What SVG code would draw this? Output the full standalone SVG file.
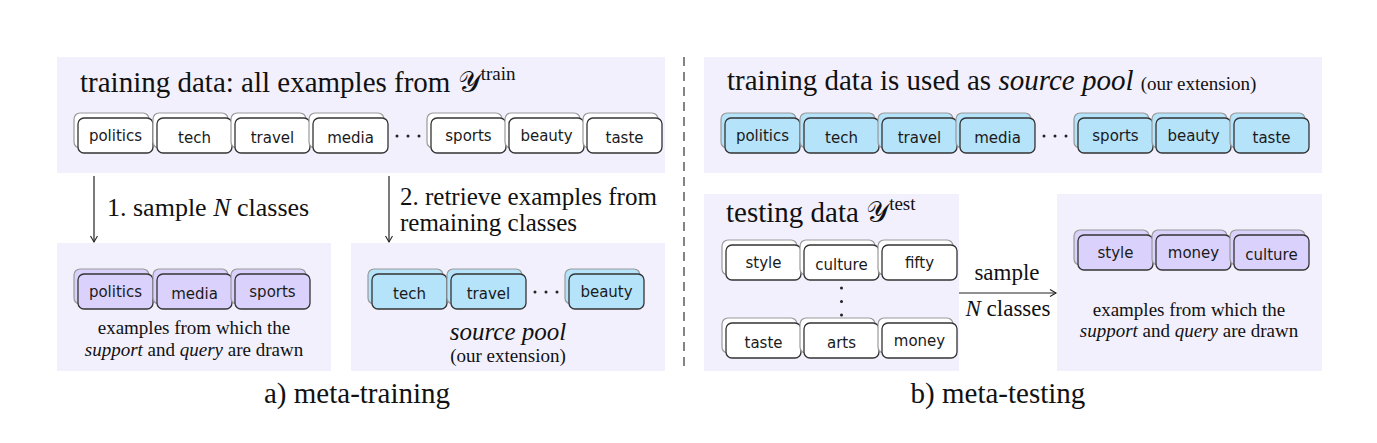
<svg xmlns="http://www.w3.org/2000/svg" width="1377" height="443" viewBox="0 0 1377 443">
<defs>
<style>
.panel{fill:#f2f0fc}
.bk{stroke:#9a9a9a;stroke-width:1.2}
.fr{stroke:#333;stroke-width:1.3}
.w{fill:#fff}.b{fill:#b5e3fa}.p{fill:#dad2fc}
.tag{font-family:"DejaVu Sans",sans-serif;font-size:15px;text-anchor:middle;fill:#1a1a1a}
.s{font-family:"Liberation Serif","Times New Roman",serif;fill:#111}
.h{font-size:29px}
.lb{font-size:26px}
.sm{font-size:19px}
.c{text-anchor:middle}
.i{font-style:italic}
.dot{fill:#222}
.ln{stroke:#222;stroke-width:1.2;fill:none}
</style>
<marker id="ah" markerWidth="12" markerHeight="12" refX="9" refY="5" orient="auto" markerUnits="userSpaceOnUse">
<path d="M3,1.5 L9,5 L3,8.5" fill="none" stroke="#222" stroke-width="1.1"/>
</marker>
</defs>
<rect width="1377" height="443" fill="#fff"/>

<!-- panels -->
<rect class="panel" x="57" y="57" width="608" height="116"/>
<rect class="panel" x="57" y="243" width="274" height="128"/>
<rect class="panel" x="351" y="243" width="314" height="128"/>
<rect class="panel" x="704" y="57" width="618" height="116"/>
<rect class="panel" x="704" y="194" width="255" height="177"/>
<rect class="panel" x="1057" y="194" width="265" height="177"/>

<!-- headings -->
<text class="s h" x="80" y="92">training data: all examples from <tspan font-family="DejaVu Serif,DejaVu Sans,serif">𝒴</tspan><tspan font-size="19px" dy="-12">train</tspan></text>
<text class="s h" x="727" y="90">training data is used as <tspan class="i">source pool</tspan> <tspan font-size="19px">(our extension)</tspan></text>
<text class="s h" x="726" y="222">testing data <tspan font-family="DejaVu Serif,DejaVu Sans,serif">𝒴</tspan><tspan font-size="19px" dy="-12">test</tspan></text>

<!-- top-left tags -->
<g id="tl-politics"><rect class="bk w" x="74" y="113" width="75" height="35" rx="6"/><rect class="fr w" x="78" y="118" width="75" height="35" rx="6"/><text class="tag" x="115.5" y="140.5">politics</text></g>
<g id="tl-tech"><rect class="bk w" x="153" y="113" width="75" height="35" rx="6"/><rect class="fr w" x="157" y="118" width="75" height="35" rx="6"/><text class="tag" x="194.5" y="142.5">tech</text></g>
<g id="tl-travel"><rect class="bk w" x="231" y="113" width="75" height="35" rx="6"/><rect class="fr w" x="235" y="118" width="75" height="35" rx="6"/><text class="tag" x="272.5" y="142.5">travel</text></g>
<g id="tl-media"><rect class="bk w" x="309" y="113" width="75" height="35" rx="6"/><rect class="fr w" x="313" y="118" width="75" height="35" rx="6"/><text class="tag" x="350.5" y="142.5">media</text></g>
<g id="tl-dots"><circle class="dot" cx="397" cy="136" r="1.5"/><circle class="dot" cx="408" cy="136" r="1.5"/><circle class="dot" cx="419" cy="136" r="1.5"/></g>
<g id="tl-sports"><rect class="bk w" x="427" y="113" width="75" height="35" rx="6"/><rect class="fr w" x="431" y="118" width="75" height="35" rx="6"/><text class="tag" x="468.5" y="140.5">sports</text></g>
<g id="tl-beauty"><rect class="bk w" x="505" y="113" width="75" height="35" rx="6"/><rect class="fr w" x="509" y="118" width="75" height="35" rx="6"/><text class="tag" x="546.5" y="140.5">beauty</text></g>
<g id="tl-taste"><rect class="bk w" x="583" y="113" width="75" height="35" rx="6"/><rect class="fr w" x="587" y="118" width="75" height="35" rx="6"/><text class="tag" x="624.5" y="142.5">taste</text></g>

<!-- top-right tags -->
<g id="tr-politics"><rect class="bk b" x="721" y="113" width="75" height="35" rx="6"/><rect class="fr b" x="725" y="118" width="75" height="35" rx="6"/><text class="tag" x="762.5" y="140.5">politics</text></g>
<g id="tr-tech"><rect class="bk b" x="800" y="113" width="75" height="35" rx="6"/><rect class="fr b" x="804" y="118" width="75" height="35" rx="6"/><text class="tag" x="841.5" y="142.5">tech</text></g>
<g id="tr-travel"><rect class="bk b" x="878" y="113" width="75" height="35" rx="6"/><rect class="fr b" x="882" y="118" width="75" height="35" rx="6"/><text class="tag" x="919.5" y="142.5">travel</text></g>
<g id="tr-media"><rect class="bk b" x="956" y="113" width="75" height="35" rx="6"/><rect class="fr b" x="960" y="118" width="75" height="35" rx="6"/><text class="tag" x="997.5" y="142.5">media</text></g>
<g id="tr-dots"><circle class="dot" cx="1044" cy="136" r="1.5"/><circle class="dot" cx="1055" cy="136" r="1.5"/><circle class="dot" cx="1066" cy="136" r="1.5"/></g>
<g id="tr-sports"><rect class="bk b" x="1074" y="113" width="75" height="35" rx="6"/><rect class="fr b" x="1078" y="118" width="75" height="35" rx="6"/><text class="tag" x="1115.5" y="140.5">sports</text></g>
<g id="tr-beauty"><rect class="bk b" x="1152" y="113" width="75" height="35" rx="6"/><rect class="fr b" x="1156" y="118" width="75" height="35" rx="6"/><text class="tag" x="1193.5" y="140.5">beauty</text></g>
<g id="tr-taste"><rect class="bk b" x="1230" y="113" width="75" height="35" rx="6"/><rect class="fr b" x="1234" y="118" width="75" height="35" rx="6"/><text class="tag" x="1271.5" y="142.5">taste</text></g>

<!-- bottom-left tags -->
<g id="bl-politics"><rect class="bk p" x="74" y="269" width="75" height="35" rx="6"/><rect class="fr p" x="78" y="274" width="75" height="35" rx="6"/><text class="tag" x="115.5" y="296.5">politics</text></g>
<g id="bl-media"><rect class="bk p" x="153" y="269" width="75" height="35" rx="6"/><rect class="fr p" x="157" y="274" width="75" height="35" rx="6"/><text class="tag" x="194.5" y="298.5">media</text></g>
<g id="bl-sports"><rect class="bk p" x="231" y="269" width="75" height="35" rx="6"/><rect class="fr p" x="235" y="274" width="75" height="35" rx="6"/><text class="tag" x="272.5" y="296.5">sports</text></g>
<g id="bl-caption"><text class="s sm c" x="194" y="334">examples from which the</text><text class="s sm c" x="194" y="356"><tspan class="i">support</tspan> and <tspan class="i">query</tspan> are drawn</text></g>

<!-- bottom-middle tags -->
<g id="bm-tech"><rect class="bk b" x="368" y="269" width="75" height="35" rx="6"/><rect class="fr b" x="372" y="274" width="75" height="35" rx="6"/><text class="tag" x="409.5" y="298.5">tech</text></g>
<g id="bm-travel"><rect class="bk b" x="447" y="269" width="75" height="35" rx="6"/><rect class="fr b" x="451" y="274" width="75" height="35" rx="6"/><text class="tag" x="488.5" y="298.5">travel</text></g>
<g id="bm-dots"><circle class="dot" cx="535" cy="292" r="1.5"/><circle class="dot" cx="546" cy="292" r="1.5"/><circle class="dot" cx="557" cy="292" r="1.5"/></g>
<g id="bm-beauty"><rect class="bk b" x="565" y="269" width="75" height="35" rx="6"/><rect class="fr b" x="569" y="274" width="75" height="35" rx="6"/><text class="tag" x="606.5" y="296.5">beauty</text></g>
<g id="bm-caption"><text class="s c i" font-size="25px" x="508" y="340">source pool</text><text class="s sm c" x="508" y="362">(our extension)</text></g>

<!-- testing tags -->
<g id="te-style"><rect class="bk w" x="722" y="240" width="75" height="35" rx="6"/><rect class="fr w" x="726" y="245" width="75" height="35" rx="6"/><text class="tag" x="763.5" y="267.5">style</text></g>
<g id="te-culture"><rect class="bk w" x="800" y="240" width="75" height="35" rx="6"/><rect class="fr w" x="804" y="245" width="75" height="35" rx="6"/><text class="tag" x="841.5" y="269.5">culture</text></g>
<g id="te-fifty"><rect class="bk w" x="878" y="240" width="75" height="35" rx="6"/><rect class="fr w" x="882" y="245" width="75" height="35" rx="6"/><text class="tag" x="919.5" y="267.5">fifty</text></g>
<g id="te-vdots"><circle class="dot" cx="841.5" cy="288" r="1.5"/><circle class="dot" cx="841.5" cy="301.5" r="1.5"/><circle class="dot" cx="841.5" cy="315" r="1.5"/></g>
<g id="te-taste"><rect class="bk w" x="722" y="318" width="75" height="35" rx="6"/><rect class="fr w" x="726" y="323" width="75" height="35" rx="6"/><text class="tag" x="763.5" y="347.5">taste</text></g>
<g id="te-arts"><rect class="bk w" x="800" y="318" width="75" height="35" rx="6"/><rect class="fr w" x="804" y="323" width="75" height="35" rx="6"/><text class="tag" x="841.5" y="347.5">arts</text></g>
<g id="te-money"><rect class="bk w" x="878" y="318" width="75" height="35" rx="6"/><rect class="fr w" x="882" y="323" width="75" height="35" rx="6"/><text class="tag" x="919.5" y="345.5">money</text></g>

<!-- right sampled tags -->
<g id="rs-style"><rect class="bk p" x="1074" y="230" width="75" height="35" rx="6"/><rect class="fr p" x="1078" y="235" width="75" height="35" rx="6"/><text class="tag" x="1115.5" y="257.5">style</text></g>
<g id="rs-money"><rect class="bk p" x="1152" y="230" width="75" height="35" rx="6"/><rect class="fr p" x="1156" y="235" width="75" height="35" rx="6"/><text class="tag" x="1193.5" y="257.5">money</text></g>
<g id="rs-culture"><rect class="bk p" x="1230" y="230" width="75" height="35" rx="6"/><rect class="fr p" x="1234" y="235" width="75" height="35" rx="6"/><text class="tag" x="1271.5" y="259.5">culture</text></g>
<g id="rs-caption"><text class="s sm c" x="1189" y="316">examples from which the</text><text class="s sm c" x="1189" y="337"><tspan class="i">support</tspan> and <tspan class="i">query</tspan> are drawn</text></g>

<!-- connectors -->
<g id="connectors">
<line class="ln" x1="94" y1="176" x2="94" y2="242" marker-end="url(#ah)"/>
<line class="ln" x1="389" y1="176" x2="389" y2="242" marker-end="url(#ah)"/>
<line class="ln" x1="959" y1="293" x2="1056" y2="293" marker-end="url(#ah)"/>
<line x1="684" y1="57" x2="684" y2="372" stroke="#333" stroke-width="1.2" stroke-dasharray="9,6"/>
</g>

<!-- connector labels -->
<text class="s lb" x="107" y="216">1. sample <tspan class="i">N</tspan> classes</text>
<text class="s" font-size="25px" x="400" y="205">2. retrieve examples from</text>
<text class="s" font-size="25px" x="400" y="231">remaining classes</text>
<text class="s c" font-size="23px" x="1007" y="280">sample</text>
<text class="s c" font-size="23px" x="1008" y="316"><tspan class="i">N</tspan> classes</text>

<!-- captions -->
<text class="s h c" x="357" y="403">a) meta-training</text>
<text class="s h c" x="998" y="403">b) meta-testing</text>
</svg>
